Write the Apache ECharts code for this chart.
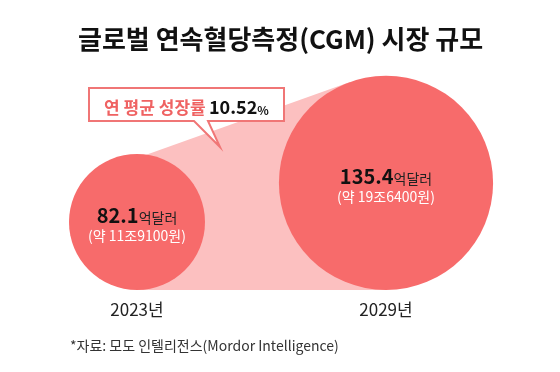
<!DOCTYPE html>
<html>
<head>
<meta charset="utf-8">
<script src="https://cdn.jsdelivr.net/npm/echarts@6/dist/echarts.min.js"></script>
<style>
html,body{margin:0;padding:0;background:#fff;}
#chart{width:560px;height:372px;}
</style>
</head>
<body>
<div id="chart"></div>
<script>
// ---- data ----
const years = ['2023', '2029'];
const marketUsd = [82.1, 135.4];            // 억달러
const marketKrw = ['11조9100', '19조6400'];  // 원 (approx.)
const cagr = '10.52';                        // %

// ---- styles ----
const FONT = '"Noto Sans CJK KR", "Noto Sans", sans-serif';
const CIRCLE = '#f76b6b';
const BAND = '#fcc0c0';
const ACCENT = '#f07676';
const BASE_D = 15.6; // base diameter added to the value-scaled diameter

const chart = echarts.init(document.getElementById('chart'), null, {renderer: 'canvas'});

function circleGeom(api, idx, v) {
  const p = api.coord([idx, 0]);
  const d = BASE_D + api.size([0, v])[1];
  const r = d / 2;
  return {cx: p[0], cy: p[1] - r, r: r, base: p[1]};
}

chart.setOption({
  animation: false,
  title: {
    text: '글로벌 연속혈당측정(CGM) 시장 규모',
    left: 73,
    top: 21,
    textStyle: {fontFamily: FONT, fontSize: 26, fontWeight: 'bold', color: '#111'}
  },
  grid: {left: 12.5, right: 49.5, top: 70, bottom: 82},
  xAxis: {
    type: 'category',
    data: years,
    axisLine: {show: false},
    axisTick: {show: false},
    axisLabel: {formatter: '{value}년', fontFamily: FONT, fontSize: 17, color: '#222', margin: 11}
  },
  yAxis: {type: 'value', min: 0, max: 150, show: false},
  series: [
    {
      type: 'custom',
      z: 1,
      silent: true,
      data: [[0, marketUsd[0], 1, marketUsd[1]]],
      renderItem: function (params, api) {
        const a = circleGeom(api, api.value(0), api.value(1));
        const b = circleGeom(api, api.value(2), api.value(3));
        const P = [a.cx + 3, a.cy - a.r + 3];
        const dx = b.cx - P[0], dy = b.cy - P[1];
        const d = Math.hypot(dx, dy);
        const t = Math.atan2(dy, dx) - Math.asin(b.r / d);
        const L = Math.sqrt(d * d - b.r * b.r);
        const T = [P[0] + L * Math.cos(t), P[1] + L * Math.sin(t)];
        return {
          type: 'polygon',
          shape: {points: [P, T, [b.cx, b.base], [a.cx, a.base]]},
          style: {fill: BAND}
        };
      }
    },
    {
      type: 'custom',
      z: 3,
      silent: true,
      data: marketUsd.map((v, i) => [i, v]),
      renderItem: function (params, api) {
        const i = api.value(0);
        const g = circleGeom(api, i, api.value(1));
        return {
          type: 'group',
          children: [
            {type: 'circle', shape: {cx: g.cx, cy: g.cy, r: g.r}, style: {fill: CIRCLE}},
            {
              type: 'text',
              style: {
                x: g.cx, y: g.cy - 9,
                align: 'center', verticalAlign: 'middle',
                text: '{n|' + marketUsd[i] + '}{u|억달러}',
                rich: {
                  n: {fontFamily: FONT, fontSize: 20, fontWeight: 'bold', fill: '#111', lineHeight: 24, verticalAlign: 'bottom'},
                  u: {fontFamily: FONT, fontSize: 14, fontWeight: 'normal', fill: '#222', lineHeight: 20, verticalAlign: 'bottom'}
                }
              }
            },
            {
              type: 'text',
              style: {
                x: g.cx, y: g.cy + 14,
                align: 'center', verticalAlign: 'middle',
                text: '(약 ' + marketKrw[i] + '원)',
                fontFamily: FONT, fontSize: 14, fill: '#fff'
              }
            }
          ]
        };
      }
    }
  ],
  graphic: [
    {
      type: 'polygon',
      z: 100,
      shape: {points: [[89, 88], [284, 88], [284, 121], [208, 121], [220, 147], [194, 121], [89, 121]]},
      style: {fill: '#fff', stroke: ACCENT, lineWidth: 2}
    },
    {
      type: 'text',
      z: 101,
      style: {
        x: 186.5, y: 105,
        align: 'center', verticalAlign: 'middle',
        text: '{p|연 평균 성장률} {v|' + cagr + '}{s|%}',
        rich: {
          p: {fontFamily: FONT, fontSize: 17, fontWeight: 'bold', fill: '#ef6262', lineHeight: 22, verticalAlign: 'bottom'},
          v: {fontFamily: FONT, fontSize: 18, fontWeight: 'bold', fill: '#111', lineHeight: 22, verticalAlign: 'bottom'},
          s: {fontFamily: FONT, fontSize: 12, fontWeight: 'bold', fill: '#111', lineHeight: 19, verticalAlign: 'bottom'}
        }
      }
    },
    {
      type: 'text',
      z: 101,
      style: {
        x: 70, y: 346,
        verticalAlign: 'middle',
        text: '*자료: 모도 인텔리전스(Mordor Intelligence)',
        fontFamily: FONT, fontSize: 14, fill: '#333'
      }
    }
  ]
});
</script>
</body>
</html>
